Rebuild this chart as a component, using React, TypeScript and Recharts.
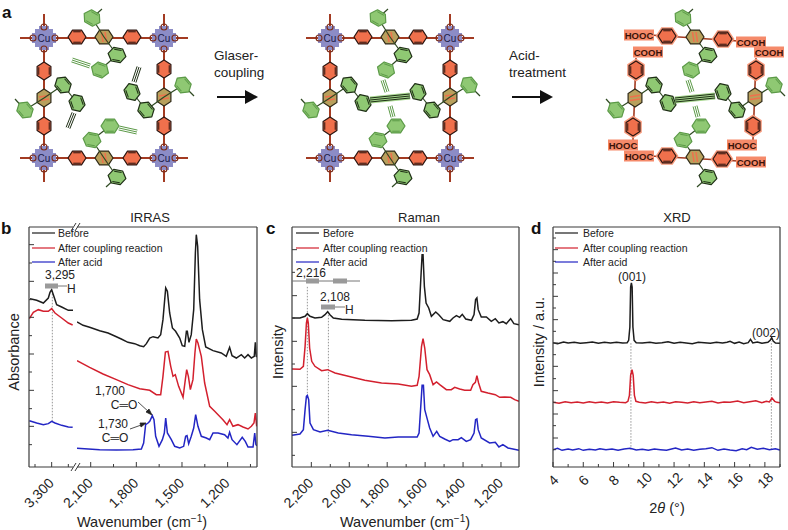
import React from "react";
import { LineChart, Line, XAxis, YAxis, ReferenceLine } from "recharts";

const BLACK = "#1d1d1d";
const RED = "#d3202e";
const BLUE = "#2326c4";
const FRAME = "#3a3a3a";
const FONT = "Liberation Sans, Arial, sans-serif";

const legendLabels = ["Before", "After coupling reaction", "After acid"];

// IRRAS, 3,300 side of the axis break
const irLeftBeforeX = [3365, 3345, 3325, 3310, 3305, 3300, 3295, 3285, 3270, 3250, 3236];
const irLeftBeforeY = [505, 500, 492, 507, 524, 532, 517, 487, 480, 470, 470];
const irLeftCoupledX = [3367, 3355, 3340, 3325, 3310, 3300, 3290, 3270, 3250, 3237];
const irLeftCoupledY = [445, 464, 472, 467, 467, 475, 462, 447, 432, 426];
const irLeftAcidX = [3367, 3345, 3325, 3310, 3300, 3290, 3270, 3250, 3237];
const irLeftAcidY = [139, 132, 127, 130, 137, 132, 125, 120, 119];

// IRRAS, fingerprint side
const irBeforeX = [2190, 2150, 2107, 2041, 1986, 1942, 1899, 1855, 1811, 1778, 1752, 1734, 1712, 1690, 1658, 1640, 1625, 1607, 1596, 1581, 1563, 1542, 1515, 1498, 1482, 1471, 1465, 1454, 1439, 1423, 1412, 1406, 1397, 1384, 1366, 1344, 1296, 1242, 1209, 1187, 1171, 1143, 1110, 1088, 1066, 1044, 1025, 1018, 1012, 1007];
const irBeforeY = [435, 425, 419, 409, 402, 393, 384, 374, 370, 364, 361, 370, 387, 391, 387, 397, 442, 537, 527, 462, 417, 407, 387, 364, 362, 407, 407, 374, 397, 472, 642, 697, 662, 502, 412, 360, 349, 342, 332, 359, 334, 327, 337, 327, 337, 327, 332, 374, 332, 330];
const irCoupledX = [2190, 2107, 2019, 1931, 1855, 1778, 1712, 1669, 1640, 1625, 1609, 1592, 1574, 1559, 1544, 1522, 1493, 1478, 1469, 1458, 1445, 1428, 1415, 1406, 1395, 1373, 1351, 1318, 1285, 1231, 1204, 1187, 1165, 1132, 1099, 1066, 1044, 1027, 1018, 1009];
const irCoupledY = [319, 299, 279, 262, 247, 235, 230, 217, 217, 272, 345, 347, 302, 272, 277, 242, 209, 262, 292, 272, 232, 262, 342, 384, 372, 332, 252, 182, 167, 142, 127, 142, 122, 127, 120, 114, 122, 132, 162, 122];
const irAcidX = [2190, 2041, 1931, 1822, 1767, 1752, 1739, 1723, 1712, 1695, 1684, 1673, 1651, 1629, 1616, 1607, 1596, 1570, 1548, 1515, 1489, 1476, 1467, 1456, 1439, 1423, 1410, 1395, 1373, 1340, 1318, 1296, 1263, 1220, 1198, 1187, 1171, 1139, 1104, 1084, 1066, 1033, 1022, 1014, 1007];
const irAcidY = [56, 52, 51, 52, 54, 72, 127, 132, 137, 154, 142, 92, 62, 82, 102, 147, 102, 82, 62, 57, 62, 92, 94, 70, 92, 117, 157, 122, 92, 87, 82, 102, 102, 97, 87, 104, 82, 67, 89, 77, 60, 60, 102, 67, 64];

// Raman
const ramanBeforeX = [2302, 2260, 2233, 2221, 2207, 2181, 2146, 2128, 2114, 2102, 2084, 2040, 1918, 1777, 1672, 1642, 1632, 1623, 1616, 1611, 1604, 1595, 1581, 1567, 1544, 1528, 1505, 1470, 1453, 1435, 1418, 1404, 1386, 1356, 1342, 1334, 1327, 1320, 1304, 1277, 1251, 1230, 1211, 1190, 1172, 1149, 1132, 1105];
const ramanBeforeY = [447, 447, 452, 460, 452, 447, 449, 457, 466, 457, 447, 443, 440, 439, 440, 444, 462, 562, 637, 637, 542, 492, 477, 452, 465, 457, 442, 437, 447, 454, 449, 458, 444, 440, 457, 502, 507, 472, 450, 450, 437, 445, 432, 436, 430, 445, 430, 427];
const ramanCoupledX = [2302, 2260, 2242, 2233, 2226, 2221, 2216, 2209, 2198, 2181, 2146, 2114, 2075, 2005, 1918, 1830, 1742, 1672, 1642, 1632, 1619, 1611, 1602, 1590, 1576, 1558, 1540, 1523, 1488, 1462, 1444, 1418, 1391, 1360, 1348, 1335, 1327, 1318, 1304, 1269, 1230, 1207, 1181, 1149, 1128, 1105];
const ramanCoupledY = [294, 293, 302, 362, 432, 447, 432, 357, 317, 302, 289, 292, 282, 272, 260, 252, 249, 242, 245, 272, 362, 385, 357, 292, 277, 247, 255, 247, 232, 232, 239, 234, 230, 230, 247, 254, 274, 252, 227, 222, 217, 209, 210, 209, 202, 197];
const ramanAcidX = [2302, 2260, 2242, 2233, 2226, 2221, 2214, 2207, 2189, 2154, 2114, 2058, 1988, 1900, 1812, 1742, 1672, 1642, 1632, 1623, 1616, 1609, 1602, 1588, 1576, 1558, 1539, 1523, 1497, 1470, 1453, 1426, 1409, 1383, 1360, 1342, 1334, 1327, 1320, 1304, 1260, 1230, 1211, 1190, 1163, 1137, 1105];
const ramanAcidY = [95, 99, 112, 172, 212, 215, 202, 132, 112, 105, 110, 102, 97, 92, 87, 90, 90, 90, 102, 182, 245, 245, 172, 142, 117, 92, 107, 92, 84, 77, 82, 82, 88, 77, 82, 102, 142, 144, 112, 87, 72, 74, 60, 67, 57, 54, 50];

// XRD
const xrdBeforeX = [4, 4.3, 4.7, 5, 5.4, 5.8, 6.2, 6.6, 7, 7.4, 7.8, 8.2, 8.6, 8.9, 9, 9.08, 9.13, 9.18, 9.23, 9.28, 9.36, 9.5, 9.9, 10.4, 10.8, 11.2, 11.6, 12, 12.4, 12.8, 13.2, 13.6, 14, 14.4, 14.8, 15.2, 15.5, 15.7, 16, 16.3, 16.6, 16.9, 17.05, 17.2, 17.5, 17.8, 18.2, 18.35, 18.45, 18.55, 18.7, 19];
const xrdBeforeY = [373, 370, 375, 372, 374, 371, 373, 375, 371, 374, 372, 374, 372, 373, 380, 420, 540, 552, 540, 420, 380, 373, 372, 374, 371, 373, 376, 371, 374, 372, 370, 374, 373, 371, 374, 372, 374, 377, 371, 375, 370, 373, 383, 372, 375, 371, 374, 380, 388, 378, 372, 371];
const xrdCoupledX = [4, 4.4, 4.8, 5.2, 5.6, 6, 6.4, 6.8, 7.2, 7.6, 8, 8.4, 8.8, 8.95, 9.05, 9.13, 9.22, 9.3, 9.38, 9.48, 9.7, 10.1, 10.5, 10.9, 11.3, 11.7, 12.1, 12.5, 12.9, 13.3, 13.7, 14.1, 14.5, 14.9, 15.3, 15.7, 16.2, 16.6, 17, 17.4, 17.8, 18.1, 18.3, 18.47, 18.65, 18.8, 19];
const xrdCoupledY = [194, 191, 196, 193, 195, 192, 196, 193, 195, 192, 196, 194, 193, 197, 215, 275, 292, 275, 215, 197, 194, 192, 196, 193, 195, 191, 196, 194, 192, 196, 193, 195, 197, 192, 195, 194, 198, 193, 196, 199, 193, 197, 195, 207, 197, 194, 193];
const xrdAcidX = [4, 4.3, 4.6, 5, 5.3, 5.7, 6, 6.4, 6.8, 7.1, 7.5, 7.9, 8.3, 8.7, 9.1, 9.5, 9.9, 10.3, 10.7, 11.1, 11.5, 11.9, 12.1, 12.5, 12.9, 13.3, 13.7, 14.1, 14.5, 14.9, 15.3, 15.7, 16.1, 16.5, 16.8, 17.1, 17.5, 17.9, 18.3, 18.7, 19];
const xrdAcidY = [52, 56, 50, 54, 51, 55, 50, 53, 51, 55, 52, 54, 50, 54, 56, 51, 53, 50, 54, 52, 50, 55, 57, 51, 54, 50, 53, 55, 58, 50, 54, 51, 49, 55, 52, 59, 53, 56, 52, 55, 51];

const irLeftTicks = [3350, 3300, 3250];
const irLeftLabels = [3300];
const irTicks = [2100, 1950, 1800, 1650, 1500, 1350, 1200, 1050];
const irLabels = [2100, 1800, 1500, 1200];
const ramanTicks = [2200, 2100, 2000, 1900, 1800, 1700, 1600, 1500, 1400, 1300, 1200];
const ramanLabels = [2200, 2000, 1800, 1600, 1400, 1200];
const xrdTicks = [4, 5, 6, 7, 8, 9, 10, 11, 12, 13, 14, 15, 16, 17, 18, 19];
const xrdLabels = [4, 6, 8, 10, 12, 14, 16, 18];
const irYTicks = [67, 122, 175, 230, 285, 339, 394, 449, 502, 557, 612, 667];
const ramanYTicks = [35, 104, 172, 242, 309, 377, 447, 514, 584, 652];
const xrdYTicks = [52, 87, 124, 159, 194, 229, 265, 302, 337, 372, 407, 442, 477, 512, 547, 582, 617, 652, 687];

const zip = (xs: number[], ys: number[]) => xs.map((x, i) => ({ x, y: ys[i] }));

type Series = { color: string; points: { x: number; y: number }[] };
type Guide = { x: number; from: number; to: number };

function SpectrumPanel(props: {
  left: number; top: number; width: number; height: number;
  domain: [number, number]; reversed?: boolean;
  ticks: number[]; labels: number[]; yTicks?: number[];
  series: Series[]; guides: Guide[]; hasLeft?: boolean; hasRight?: boolean; upright?: boolean;
}) {
  const { left, top, width, height, domain, reversed, ticks, labels, yTicks, series, guides, hasLeft, hasRight, upright } = props;
  // the 1px axes count towards the plot offset, hence the odd margins
  const m = { top: 1, left: hasLeft ? 29 : 30, right: hasRight ? 11 : 12, bottom: 59 };
  const renderXTick = (p: any) => {
    const major = labels.includes(p.payload.value);
    const tx = upright ? p.x + 1 : p.x + 3;
    const ty = upright ? p.y + 14 : p.y + 17;
    return (
      <g>
        <line x1={p.x} x2={p.x} y1={p.y} y2={p.y - (major ? 5 : 3)} stroke={FRAME} strokeWidth={1} />
        {major && (
          <text
            x={tx}
            y={upright ? p.y + 18 : ty}
            textAnchor={upright ? "middle" : "end"}
            fontSize={14}
            fill="#222"
            fontFamily={FONT}
            transform={`rotate(-45 ${tx} ${ty})`}
          >
            {p.payload.value.toLocaleString("en-US")}
          </text>
        )}
      </g>
    );
  };
  const renderYTick = (p: any) => (
    <line x1={p.x} x2={p.x + (p.index % 2 ? 5 : 3)} y1={p.y} y2={p.y} stroke={FRAME} strokeWidth={1} />
  );
  return (
    <div style={{ position: "absolute", left: left - 30, top: top - 2 }}>
      <LineChart width={width + 42} height={height + 62} margin={m}>
        <XAxis
          type="number" dataKey="x" domain={domain} reversed={reversed} allowDataOverflow
          ticks={ticks} interval={0} height={1} tickSize={0} tickMargin={0} tickLine={false}
          tick={renderXTick} stroke={FRAME} strokeWidth={1.2}
        />
        <XAxis xAxisId="top" orientation="top" type="number" domain={domain} height={1} tick={false} tickLine={false} stroke={FRAME} strokeWidth={1.2} />
        <YAxis
          type="number" domain={[0, 720]} allowDataOverflow width={1} hide={!hasLeft}
          ticks={yTicks} interval={0} tickSize={0} tickMargin={0} tickLine={false}
          tick={renderYTick} stroke={FRAME} strokeWidth={1.2}
        />
        {hasRight && (
          <YAxis yAxisId="right" orientation="right" type="number" domain={[0, 720]} width={1} tick={false} tickLine={false} stroke={FRAME} strokeWidth={1.2} />
        )}
        {guides.map((g, i) => (
          <ReferenceLine
            key={i}
            segment={[{ x: g.x, y: g.from }, { x: g.x, y: g.to }]}
            stroke="#8a8a8a" strokeWidth={0.9} strokeDasharray="1.5 1.5"
          />
        ))}
        {series.map((s, i) => (
          <Line
            key={i} data={s.points} dataKey="y" type="linear" stroke={s.color}
            strokeWidth={1.5} dot={false} isAnimationActive={false} legendType="none"
          />
        ))}
      </LineChart>
    </div>
  );
}

// --- reaction scheme above the plots ---
const ORANGE = "#f0704c";
const BOND = "#a33b22";
const GREEN = "#8fc873";
const GREEN_EDGE = "#5c9a48";
const hexPts = (r: number) =>
  [0, 60, 120, 180, 240, 300].map((a) => {
    const t = (a * Math.PI) / 180;
    return `${(r * Math.cos(t)).toFixed(1)},${(r * 0.88 * Math.sin(t)).toFixed(1)}`;
  }).join(" ");

function Ring({ x, y, rot = 0, fill, edge, r = 9, halo }: { x: number; y: number; rot?: number; fill: string; edge: string; r?: number; halo?: string }) {
  return (
    <g transform={`translate(${x} ${y}) rotate(${rot})`}>
      {halo && <polygon points={hexPts(r + 1)} fill="none" stroke={halo} strokeWidth={2.4} />}
      <polygon points={hexPts(r)} fill={fill} stroke={edge} strokeWidth={1.2} strokeLinejoin="round" />
      <line x1={-r * 0.42} x2={r * 0.42} y1={-r * 0.58} y2={-r * 0.58} stroke={edge} strokeWidth={1} />
      <line x1={-r * 0.42} x2={r * 0.42} y1={r * 0.58} y2={r * 0.58} stroke={edge} strokeWidth={1} />
    </g>
  );
}

function CoreRing({ x, y, rot = 0 }: { x: number; y: number; rot?: number }) {
  return (
    <g transform={`translate(${x} ${y}) rotate(${rot})`}>
      <polygon points={hexPts(9)} fill="#b8a05c" stroke="#2f2a18" strokeWidth={1.2} />
      <line x1={-2.5} x2={-1} y1={-5} y2={5} stroke={ORANGE} strokeWidth={1.5} />
      <line x1={1} x2={2.5} y1={-5} y2={5} stroke={ORANGE} strokeWidth={1.5} />
    </g>
  );
}

function Triple({ a, b, color = GREEN_EDGE }: { a: number[]; b: number[]; color?: string }) {
  const dx = b[0] - a[0];
  const dy = b[1] - a[1];
  const l = Math.hypot(dx, dy);
  const nx = (-dy / l) * 2;
  const ny = (dx / l) * 2;
  return (
    <g stroke={color} strokeWidth={1}>
      {[-1, 0, 1].map((k) => (
        <line key={k} x1={a[0] + nx * k} y1={a[1] + ny * k} x2={b[0] + nx * k} y2={b[1] + ny * k} />
      ))}
    </g>
  );
}

const softRings = [[92, 18, 30], [25, 110, 50], [183, 85, 50], [92, 140, 10], [110, 126, 0], [100, 70, 20]];
const darkRings = [[117, 55, 10], [63, 85, 50], [77, 103, 70], [132, 92, 70], [146, 110, 50], [117, 177, 10]];
const armBonds = [
  [104, 37, 92, 18], [92, 18, 102, 9], [104, 37, 117, 55], [117, 55, 100, 70],
  [44, 98, 63, 85], [63, 85, 77, 103], [44, 98, 25, 110], [25, 110, 15, 99],
  [164, 97, 183, 85], [183, 85, 194, 96], [164, 97, 146, 110], [146, 110, 132, 92],
  [104, 158, 117, 177], [117, 177, 106, 187], [104, 158, 92, 140], [92, 140, 110, 126],
];

function GreenArms() {
  return (
    <g>
      {armBonds.map((b, i) => (
        <line key={i} x1={b[0]} y1={b[1]} x2={b[2]} y2={b[3]} stroke="#2f4a22" strokeWidth={1.2} />
      ))}
      {softRings.map((r, i) => <Ring key={i} x={r[0]} y={r[1]} rot={r[2]} fill={GREEN} edge={GREEN_EDGE} />)}
      {darkRings.map((r, i) => <Ring key={i} x={r[0]} y={r[1]} rot={r[2]} fill={GREEN} edge="#1f2f16" />)}
    </g>
  );
}

function MofFrame({ dx }: { dx: number }) {
  const hRings = [[77, 37], [132, 37], [77, 158], [132, 158]];
  const vRings = [[44, 71], [44, 126], [164, 69], [164, 126]];
  const nodes = [[44, 38], [164, 38], [44, 158], [164, 158]];
  return (
    <g transform={`translate(${dx} 0)`}>
      <g stroke={BOND} strokeWidth={2}>
        <line x1={20} x2={188} y1={38} y2={38} />
        <line x1={20} x2={188} y1={158} y2={158} />
        <line x1={44} x2={44} y1={14} y2={182} />
        <line x1={164} x2={164} y1={14} y2={182} />
      </g>
      {nodes.map((n, i) => (
        <g key={i}>
          <rect x={n[0] - 9} y={n[1] - 9} width={18} height={18} fill="#8c8cc6" />
          <rect x={n[0] - 12} y={n[1] - 5} width={24} height={10} fill="#8c8cc6" />
          <rect x={n[0] - 5} y={n[1] - 12} width={10} height={24} fill="#8c8cc6" />
          {[[-11, 0], [11, 0], [0, -11], [0, 11]].map((o, j) => (
            <circle key={j} cx={n[0] + o[0]} cy={n[1] + o[1]} r={3} fill="none" stroke="#7c2d1a" strokeWidth={1.1} />
          ))}
          <text x={n[0]} y={n[1] + 3.5} textAnchor="middle" fontSize={10} fill="#1b1b46" fontFamily={FONT}>Cu</text>
        </g>
      ))}
      {hRings.map((r, i) => <Ring key={i} x={r[0]} y={r[1]} fill={ORANGE} edge="#2b1510" />)}
      {vRings.map((r, i) => <Ring key={i} x={r[0]} y={r[1]} rot={90} fill={ORANGE} edge="#2b1510" />)}
      <CoreRing x={104} y={37} />
      <CoreRing x={104} y={158} />
      <CoreRing x={44} y={98} rot={90} />
      <CoreRing x={164} y={97} rot={90} />
      <GreenArms />
    </g>
  );
}

const acidLabels = [
  ["HOOC", 639, 35], ["COOH", 751, 42], ["COOH", 648, 52], ["COOH", 769, 52],
  ["HOOC", 623, 145], ["HOOC", 742, 145], ["HOOC", 639, 156], ["COOH", 751, 162],
] as [string, number, number][];
const acidHRings = [[667, 36], [723, 39], [667, 156], [722, 159]];
const acidVRings = [[636, 70], [756, 70], [633, 127], [753, 126]];

function AcidFrame() {
  return (
    <g>
      <g stroke={BOND} strokeWidth={1.6}>
        <line x1={650} x2={738} y1={35} y2={41} />
        <line x1={650} x2={738} y1={156} y2={161} />
        <line x1={636} x2={633} y1={58} y2={140} />
        <line x1={756} x2={753} y1={58} y2={140} />
      </g>
      <g transform="translate(591 0)"><GreenArms /></g>
      {acidHRings.map((r, i) => <Ring key={i} x={r[0]} y={r[1]} fill={ORANGE} edge="#2b1510" halo="#f79a7c" />)}
      {acidVRings.map((r, i) => <Ring key={i} x={r[0]} y={r[1]} rot={90} fill={ORANGE} edge="#2b1510" halo="#f79a7c" />)}
      <CoreRing x={695} y={37} />
      <CoreRing x={695} y={157} />
      <CoreRing x={635} y={98} rot={90} />
      <CoreRing x={755} y={97} rot={90} />
      {acidLabels.map(([t, x, y], i) => (
        <g key={i}>
          <rect x={x - 15} y={y - 5.5} width={30} height={11} fill="#f58a6a" />
          <text x={x} y={y + 3.5} textAnchor="middle" fontSize={9.5} fontWeight="bold" fill="#3a1208" fontFamily={FONT}>{t}</text>
        </g>
      ))}
    </g>
  );
}

function Scheme() {
  return (
    <g>
      <MofFrame dx={0} />
      <MofFrame dx={286} />
      <AcidFrame />
      <Triple a={[90, 66]} b={[72, 60]} />
      <Triple a={[74, 113]} b={[68, 128]} color="#1f2f16" />
      <Triple a={[134, 82]} b={[139, 67]} color="#1f2f16" />
      <Triple a={[119, 128]} b={[137, 132]} />
      {[286, 591].map((dx) => (
        <g key={dx} transform={`translate(${dx} 0)`}>
          <Triple a={[97, 80]} b={[101, 92]} />
          <Triple a={[104, 106]} b={[107, 117]} />
          <line x1={84} y1={100} x2={124} y2={96} stroke="#a6d68e" strokeWidth={7} />
          <Triple a={[84, 100]} b={[124, 96]} color="#1f2f16" />
        </g>
      ))}
      <g fontFamily={FONT} fontSize={13.5} fill="#222">
        <text x={214} y={60}>Glaser-</text>
        <text x={214} y={77}>coupling</text>
        <text x={509} y={60}>Acid-</text>
        <text x={509} y={77}>treatment</text>
      </g>
      <line x1={217} x2={248} y1={97} y2={97} stroke="#111" strokeWidth={2} />
      <polygon points="245,90 258,97 245,104" fill="#111" />
      <line x1={512} x2={543} y1={97} y2={97} stroke="#111" strokeWidth={2} />
      <polygon points="540,90 553,97 540,104" fill="#111" />
    </g>
  );
}

function Legend({ lineX, textX }: { lineX: number; textX: number }) {
  const rows = [233, 248, 262];
  const colors = [BLACK, RED, BLUE];
  return (
    <g>
      {rows.map((y, i) => (
        <g key={y}>
          <line x1={lineX} x2={lineX + 23} y1={y} y2={y} stroke={colors[i]} strokeWidth={1.2} />
          <text x={textX} y={y + 4} fontSize={10.5} fill="#222" fontFamily={FONT}>{legendLabels[i]}</text>
        </g>
      ))}
    </g>
  );
}

function Bar({ x1, x2, y }: { x1: number; x2: number; y: number }) {
  return <rect x={x1} y={y - 2.5} width={x2 - x1} height={5} fill="#9a9a9a" />;
}

function Overlay() {
  return (
    <svg width={788} height={530} style={{ position: "absolute", left: 0, top: 0, pointerEvents: "none" }} fontFamily={FONT}>
      <Scheme />
      <g fontWeight="bold" fontSize={17} fill="#111">
        <text x={2} y={18}>a</text>
        <text x={1} y={234}>b</text>
        <text x={266} y={234}>c</text>
        <text x={531} y={234}>d</text>
      </g>
      <g fontSize={13} fill="#222" textAnchor="middle">
        <text x={150} y={222}>IRRAS</text>
        <text x={419} y={222}>Raman</text>
        <text x={677} y={222}>XRD</text>
      </g>
      <g fontSize={14.5} fill="#222" textAnchor="middle">
        <text transform="translate(19 352) rotate(-90)">Absorbance</text>
        <text transform="translate(283 352) rotate(-90)">Intensity</text>
        <text transform="translate(544 342) rotate(-90)">Intensity / a.u.</text>
        <text x={142} y={527}>Wavenumber (cm<tspan dy={-5} fontSize={10}>−1</tspan><tspan dy={5}>)</tspan></text>
        <text x={405} y={527}>Wavenumber (cm<tspan dy={-5} fontSize={10}>−1</tspan><tspan dy={5}>)</tspan></text>
        <text x={667} y={513}>2<tspan fontStyle="italic">θ</tspan> (°)</text>
      </g>
      <Legend lineX={32} textX={58} />
      <Legend lineX={296} textX={323} />
      <Legend lineX={555} textX={583} />

      {/* axis break marks */}
      <g stroke={FRAME} strokeWidth={1}>
        <line x1={71} y1={231} x2={76} y2={223} />
        <line x1={75} y1={231} x2={80} y2={223} />
        <line x1={71} y1={471} x2={76} y2={463} />
        <line x1={75} y1={471} x2={80} y2={463} />
      </g>

      <g fontSize={12} fill="#222">
        <text x={60} y={279} textAnchor="middle">3,295</text>
        <Bar x1={45} x2={58} y={286} />
        <line x1={58} x2={67} y1={286} y2={286} stroke="#777" />
        <text x={67} y={293}>H</text>
        <text x={110} y={395} textAnchor="middle">1,700</text>
        <text x={124} y={409} textAnchor="middle">C═O</text>
        <text x={113} y={428} textAnchor="middle">1,730</text>
        <text x={115} y={442} textAnchor="middle">C═O</text>

        <text x={311} y={277} textAnchor="middle">2,216</text>
        <line x1={292} x2={360} y1={281} y2={281} stroke="#777" />
        <Bar x1={306} x2={319} y={281} />
        <Bar x1={333} x2={347} y={281} />
        <text x={335} y={301} textAnchor="middle">2,108</text>
        <Bar x1={321} x2={335} y={307} />
        <line x1={335} x2={345} y1={307} y2={307} stroke="#777" />
        <text x={345} y={314}>H</text>

        <text x={632} y={281} textAnchor="middle">(001)</text>
        <text x={766} y={337} textAnchor="middle">(002)</text>
      </g>
      <g stroke="#222" strokeWidth={0.8} fill="#222">
        <line x1={138} y1={402} x2={150} y2={413} />
        <polygon points="152,415 146,412 149,409" />
        <line x1={130} y1={429} x2={144} y2={424} />
        <polygon points="146,423 140,423 141,427" />
      </g>
    </svg>
  );
}

export default function App() {
  return (
    <div style={{ position: "absolute", left: 0, top: 0, width: 788, height: 530, background: "#fff", overflow: "hidden" }}>
      <SpectrumPanel
        left={29} top={227} width={44} height={240} domain={[3236, 3368]} reversed
        ticks={irLeftTicks} labels={irLeftLabels} yTicks={irYTicks} hasLeft
        series={[
          { color: BLACK, points: zip(irLeftBeforeX, irLeftBeforeY) },
          { color: RED, points: zip(irLeftCoupledX, irLeftCoupledY) },
          { color: BLUE, points: zip(irLeftAcidX, irLeftAcidY) },
        ]}
        guides={[{ x: 3298, from: 137, to: 527 }]}
      />
      <SpectrumPanel
        left={77} top={227} width={180} height={240} domain={[1007, 2190]} reversed
        ticks={irTicks} labels={irLabels} hasRight
        series={[
          { color: BLACK, points: zip(irBeforeX, irBeforeY) },
          { color: RED, points: zip(irCoupledX, irCoupledY) },
          { color: BLUE, points: zip(irAcidX, irAcidY) },
        ]}
        guides={[]}
      />
      <SpectrumPanel
        left={292} top={227} width={227} height={240} domain={[1105, 2302]} reversed
        ticks={ramanTicks} labels={ramanLabels} yTicks={ramanYTicks} hasLeft hasRight
        series={[
          { color: BLACK, points: zip(ramanBeforeX, ramanBeforeY) },
          { color: RED, points: zip(ramanCoupledX, ramanCoupledY) },
          { color: BLUE, points: zip(ramanAcidX, ramanAcidY) },
        ]}
        guides={[{ x: 2221, from: 212, to: 545 }, { x: 2110, from: 92, to: 467 }]}
      />
      <SpectrumPanel
        left={553} top={227} width={227} height={240} domain={[4, 19]} upright
        ticks={xrdTicks} labels={xrdLabels} yTicks={xrdYTicks} hasLeft hasRight
        series={[
          { color: BLACK, points: zip(xrdBeforeX, xrdBeforeY) },
          { color: RED, points: zip(xrdCoupledX, xrdCoupledY) },
          { color: BLUE, points: zip(xrdAcidX, xrdAcidY) },
        ]}
        guides={[{ x: 9.15, from: 52, to: 372 }, { x: 18.43, from: 52, to: 377 }]}
      />
      <Overlay />
    </div>
  );
}
